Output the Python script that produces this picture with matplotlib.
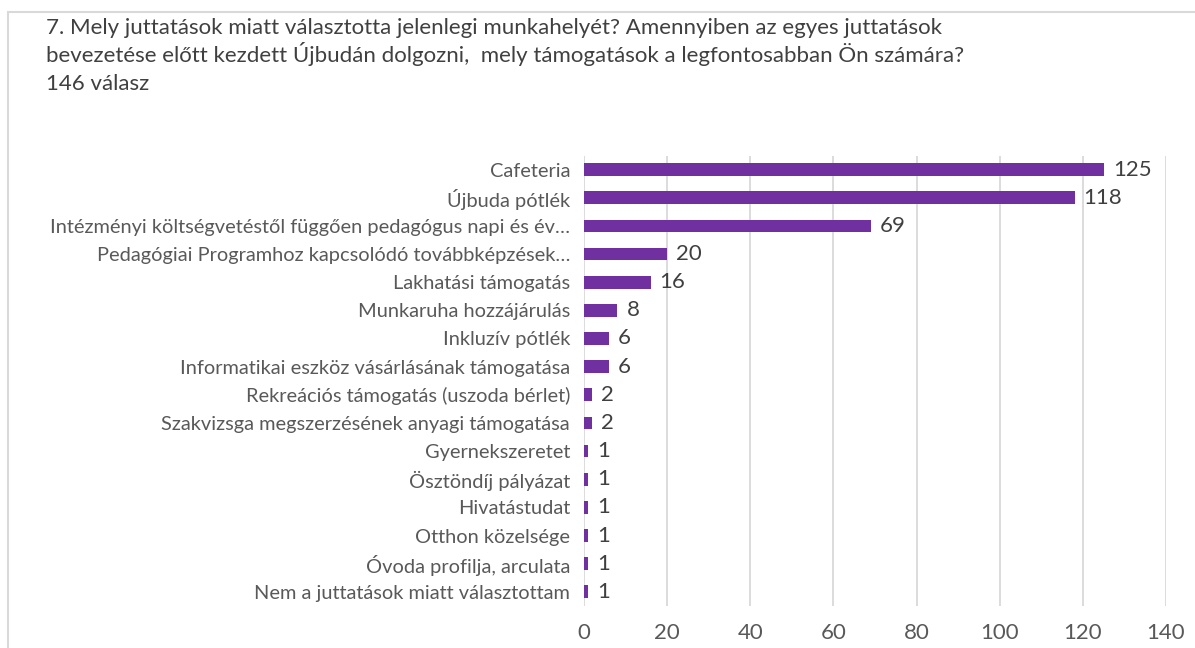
import matplotlib.pyplot as plt
from matplotlib.patches import Rectangle

plt.rcParams['font.family'] = ['Lato', 'DejaVu Sans']

title_lines = [
    "7. Mely juttatások miatt választotta jelenlegi munkahelyét? Amennyiben az egyes juttatások",
    "bevezetése előtt kezdett Újbudán dolgozni,  mely támogatások a legfontosabban Ön számára?",
    "146 válasz",
]

categories = [
    "Cafeteria",
    "Újbuda pótlék",
    "Intézményi költségvetéstől függően pedagógus napi és év…",
    "Pedagógiai Programhoz kapcsolódó továbbképzések…",
    "Lakhatási támogatás",
    "Munkaruha hozzájárulás",
    "Inkluzív pótlék",
    "Informatikai eszköz vásárlásának támogatása",
    "Rekreációs támogatás (uszoda bérlet)",
    "Szakvizsga megszerzésének anyagi támogatása",
    "Gyernekszeretet",
    "Ösztöndíj pályázat",
    "Hivatástudat",
    "Otthon közelsége",
    "Óvoda profilja, arculata",
    "Nem a juttatások miatt választottam",
]
values = [125, 118, 69, 20, 16, 8, 6, 6, 2, 2, 1, 1, 1, 1, 1, 1]
xticks = [0, 20, 40, 60, 80, 100, 120, 140]

fig = plt.figure(figsize=(11.95, 6.48), dpi=100)

# light grey frame around the chart area
fig.patches.append(Rectangle((0.0063, -0.01), 1.2, 0.992, transform=fig.transFigure,
                             fill=False, edgecolor='#d9d9d9', linewidth=1.5))

# title, one line at a time so the spacing stays even
for i, line in enumerate(title_lines):
    fig.text(0.0385, 1 - (34 + 28 * i) / 648, line, ha='left', va='baseline',
             fontsize=16, color='#404040')

ax = fig.add_axes([0.4887, 0.065, 0.4870, 0.695])
ypos = list(range(len(categories)))
ax.barh(ypos, values, height=0.45, color='#7030A0', zorder=3)
for y, v in zip(ypos, values):
    ax.text(v + 2.2, y, str(v), va='center', ha='left', fontsize=16, color='#404040')

ax.set_yticks(ypos)
ax.set_yticklabels(categories, fontsize=14.4, color='#595959')
ax.set_ylim(len(categories) - 0.5, -0.5)
ax.set_xlim(0, 140)
ax.set_xticks(xticks)
ax.tick_params(axis='x', labelsize=16, labelcolor='#595959', length=0, pad=12)
ax.tick_params(axis='y', length=0, pad=10)
ax.grid(axis='x', color='#d9d9d9', linewidth=1.3, zorder=0)
for s in ax.spines.values():
    s.set_visible(False)

fig.savefig('out.png', dpi=100)
